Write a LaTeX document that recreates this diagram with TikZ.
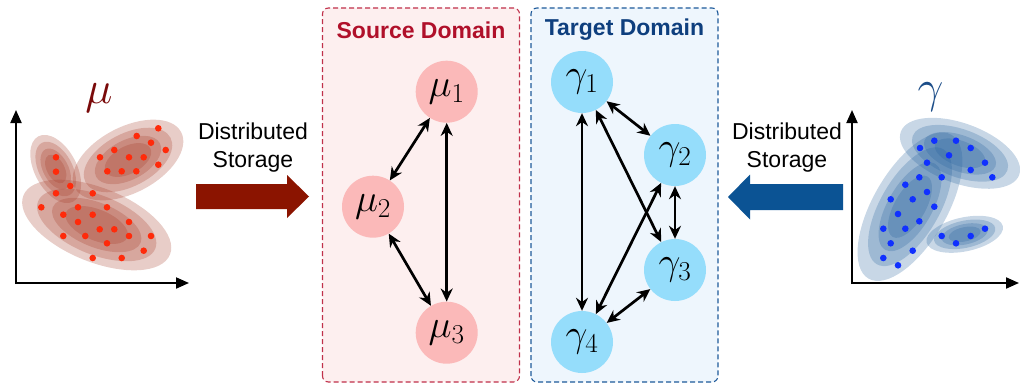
\RequirePackage{fix-cm}
\documentclass[tikz,border=0pt]{standalone}
\usepackage{fontspec}
\setsansfont{Liberation Sans}
\usetikzlibrary{arrows.meta}

\definecolor{srcfill}{HTML}{FDEFEF}
\definecolor{srcedge}{HTML}{C0304A}
\definecolor{srctitle}{HTML}{B0102A}
\definecolor{tgtfill}{HTML}{EEF6FD}
\definecolor{tgtedge}{HTML}{1E5A9A}
\definecolor{tgttitle}{HTML}{0E3F7E}
\definecolor{munode}{HTML}{FBB9B9}
\definecolor{gnode}{HTML}{95DDFB}
\definecolor{redblock}{HTML}{8B1400}
\definecolor{blueblock}{HTML}{0B5394}
\definecolor{mulabel}{HTML}{7A0A0A}
\definecolor{glabel}{HTML}{1D4E89}
\definecolor{redcloud}{RGB}{163,55,35}
\definecolor{bluecloud}{RGB}{35,95,155}
\definecolor{reddot}{HTML}{FF2A0A}
\definecolor{bluedot}{HTML}{1030FF}

% nested translucent contours of one cluster: centre, semi-axes, angle, colour
\newcommand{\blobset}[6]{%
  \foreach \s in {1,0.8,0.6,0.42}{%
    \fill[#6, opacity=0.25, rotate around={#5:(#1,#2)}]
      (#1,#2) ellipse ({#3*\s} and {#4*\s});
  }%
}

\begin{document}
\begin{tikzpicture}[x=1pt,y=1pt,
  domainbox/.style={dash pattern=on 5pt off 3pt, line width=1.1pt, rounded corners=6pt},
  title/.style={font=\fontsize{23}{26}\selectfont\sffamily\bfseries},
  store/.style={font=\fontsize{23}{28}\selectfont\sffamily, align=center},
  dist/.style={circle, minimum size=62pt, inner sep=0pt,
    font=\fontsize{39}{42}\selectfont},
  link/.style={line width=2.7pt, {Stealth[length=13pt,width=12pt]}-{Stealth[length=13pt,width=12pt]}},
  axis/.style={line width=2pt, -{Triangle[length=13pt,width=11pt]}},
]
\useasboundingbox (0,0) rectangle (1020,384);

% ---- left scatter plot ----
\blobset{55.7}{215}{37}{21}{-62}{redcloud}
\blobset{128}{224}{60}{33}{27.6}{redcloud}
\blobset{96.7}{159}{79}{37}{-22}{redcloud}
\begin{scope}[shift={(0,384)}, yscale=-1]
  \foreach \p in {(158.3,128.3),(136.7,136),(151,142.7),(165.7,150),(114.3,150),
    (100,157.3),(129,157.3),(143.7,157.3),(158.3,164.7),(107.3,171.3),(121.7,171.3),
    (136.3,171.3),(56,157.3),(56,171.7),(70.3,186),(56,193.3),(92.7,193.3),
    (41.3,207.3),(78,207.3),(107,207.3),(63.3,214.7),(92.7,214.7),(78,222),
    (129,222),(99.7,229.3),(114.3,229.3),(63.3,236),(85.3,236),(129,236),
    (151,236),(107,243.3),(143.7,250.7),(92.7,258),(121.7,258)}
    \fill[reddot] \p circle (3.3);
\end{scope}
\coordinate (lo) at (16,101);
\coordinate (ly) at (16,274);
\coordinate (lx) at (189,101);
\draw[axis] ([yshift=-1pt]lo) -- (ly);
\draw[axis] ([xshift=-1pt]lo) -- (lx);
\node[text=mulabel, font=\fontsize{46}{50}\selectfont] (mu) at (99,286) {$\mu$};

% ---- right scatter plot ----
\blobset{910}{177.3}{83}{37}{60}{bluecloud}
\blobset{960}{230.7}{63}{30}{-20}{bluecloud}
\blobset{964.7}{149.7}{39}{17}{12}{bluecloud}
\begin{scope}[shift={(0,384)}, yscale=-1]
  \foreach \p in {(934.3,140.7),(956,140.7),(970.7,148),(920,148),(949,155.3),
    (985,162.7),(927,162.7),(970.7,170),(992.3,177.3),(919.3,177.3),(941.7,177.3),
    (905.3,184.7),(927,192),(890.7,199.3),(912.7,199.3),(934.3,206.7),(898,214),
    (919.3,221.3),(883.3,228.7),(905.3,228.7),(890.7,243.3),(912.7,250.7),
    (883.3,258),(898,265.3),(941.7,236),(956,243.3),(970.7,236),(985,228.7)}
    \fill[bluedot] \p circle (3.3);
\end{scope}
\coordinate (ro) at (852,101);
\coordinate (ry) at (852,274);
\coordinate (rx) at (1019,101);
\draw[axis] ([yshift=-1pt]ro) -- (ry);
\draw[axis] ([xshift=-1pt]ro) -- (rx);
\node[text=glabel, font=\fontsize{46}{50}\selectfont] (gamma) at (930.5,287) {$\gamma$};

% ---- storage arrows ----
\node[store] (lstore) at (253,236) {Distributed\\Storage};
\fill[redblock] (196,200) -- (287,200) -- (287,209) -- (309,187.5)
  -- (287,166) -- (287,175) -- (196,175) -- cycle;
\node[store] (rstore) at (787,236) {Distributed\\Storage};
\fill[blueblock] (843,200) -- (750,200) -- (750,209.5) -- (728,187)
  -- (750,164.5) -- (750,174) -- (843,174) -- cycle;

% ---- source domain ----
\draw[domainbox, draw=srcedge, fill=srcfill] (322.5,2) rectangle (519.5,376);
\node[title, text=srctitle] (srct) at (421,354) {Source Domain};
\node[dist, fill=munode] (mu1) at (446.7,292.3) {$\mu_1$};
\node[dist, fill=munode] (mu2) at (373,177.3) {$\mu_2$};
\node[dist, fill=munode] (mu3) at (446.7,51.3) {$\mu_3$};
\draw[link] (mu1) -- (mu2);
\draw[link] (mu1) -- (mu3);
\draw[link] (mu2) -- (mu3);

% ---- target domain ----
\draw[domainbox, draw=tgtedge, fill=tgtfill] (531,2) rectangle (718,376);
\node[title, text=tgttitle] (tgtt) at (624.5,354) {Target Domain};
\node[dist, fill=gnode] (g1) at (582,302) {$\gamma_1$};
\node[dist, fill=gnode] (g2) at (675,229) {$\gamma_2$};
\node[dist, fill=gnode] (g3) at (675,114) {$\gamma_3$};
\node[dist, fill=gnode] (g4) at (582,42) {$\gamma_4$};
\draw[link] (g1) -- (g4);
\draw[link] (g1) -- (g2);
\draw[link] (g1) -- (g3);
\draw[link] (g2) -- (g4);
\draw[link] (g2) -- (g3);
\draw[link] (g3) -- (g4);
\end{tikzpicture}
\end{document}
